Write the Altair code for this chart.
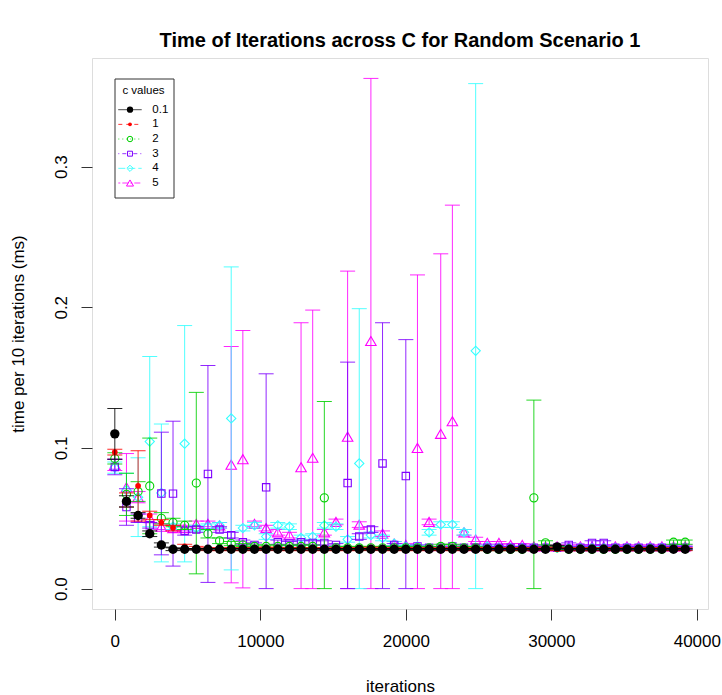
import altair as alt
import pandas as pd

# ---------------- data ----------------
c_values = ["0.1", "1", "2", "3", "4", "5"]
iterations = [i * 800 for i in range(50)]

mean_01 = [0.110, 0.062, 0.052, 0.039, 0.031, 0.028, 0.028, 0.028, 0.028, 0.028,
           0.028, 0.028, 0.028, 0.028, 0.028, 0.028, 0.028, 0.028, 0.028, 0.028,
           0.028, 0.028, 0.028, 0.028, 0.028, 0.028, 0.028, 0.028, 0.028, 0.028,
           0.028, 0.028, 0.028, 0.028, 0.028, 0.028, 0.028, 0.028, 0.0297, 0.028,
           0.028, 0.028, 0.028, 0.028, 0.028, 0.028, 0.028, 0.028, 0.028, 0.028]
sd_01 = [0.018, 0.004, 0.002, 0.002, 0.0015, 0.001, 0.0005, 0.0005, 0.0005, 0.0005,
         0.0005, 0.0005, 0.0005, 0.0005, 0.0005, 0.0005, 0.0005, 0.0005, 0.0005, 0.0005,
         0.0005, 0.0005, 0.0005, 0.0005, 0.0005, 0.0005, 0.0005, 0.0005, 0.0005, 0.0005,
         0.0005, 0.0005, 0.0005, 0.0005, 0.0005, 0.0005, 0.0005, 0.0005, 0.001, 0.0005,
         0.0005, 0.0005, 0.0005, 0.0005, 0.0005, 0.0005, 0.0005, 0.0005, 0.0005, 0.0005]

mean_1 = [0.097, 0.063, 0.073, 0.052, 0.047, 0.043, 0.030, 0.029, 0.028, 0.028,
          0.028, 0.028, 0.028, 0.0285, 0.028, 0.028, 0.028, 0.028, 0.028, 0.028,
          0.028, 0.028, 0.0285, 0.028, 0.028, 0.028, 0.028, 0.028, 0.028, 0.028,
          0.028, 0.028, 0.028, 0.028, 0.028, 0.028, 0.028, 0.0285, 0.028, 0.028,
          0.028, 0.028, 0.028, 0.028, 0.028, 0.028, 0.028, 0.028, 0.028, 0.028]
sd_1 = [0.002, 0.005, 0.025, 0.003, 0.002, 0.002, 0.0015, 0.001, 0.001, 0.001,
        0.001, 0.001, 0.001, 0.001, 0.001, 0.001, 0.001, 0.001, 0.001, 0.001,
        0.001, 0.001, 0.001, 0.001, 0.001, 0.001, 0.001, 0.001, 0.001, 0.001,
        0.001, 0.001, 0.001, 0.001, 0.001, 0.001, 0.001, 0.001, 0.001, 0.001,
        0.001, 0.001, 0.001, 0.001, 0.001, 0.001, 0.001, 0.001, 0.001, 0.001]

mean_2 = [0.0925, 0.067, 0.069, 0.073, 0.050, 0.047, 0.045, 0.075, 0.039, 0.034,
          0.032, 0.031, 0.030, 0.030, 0.030, 0.030, 0.030, 0.030, 0.0645, 0.029,
          0.029, 0.029, 0.029, 0.029, 0.029, 0.029, 0.029, 0.029, 0.030, 0.030,
          0.029, 0.029, 0.028, 0.028, 0.028, 0.028, 0.0645, 0.0325, 0.029, 0.028,
          0.028, 0.028, 0.028, 0.028, 0.028, 0.028, 0.028, 0.028, 0.033, 0.033]
sd_2 = [0.004, 0.015, 0.007, 0.034, 0.004, 0.003, 0.003, 0.0645, 0.003, 0.002,
        0.0015, 0.001, 0.001, 0.001, 0.001, 0.001, 0.001, 0.001, 0.0685, 0.001,
        0.001, 0.001, 0.001, 0.001, 0.001, 0.001, 0.001, 0.001, 0.0015, 0.0015,
        0.001, 0.001, 0.001, 0.001, 0.001, 0.001, 0.0695, 0.0015, 0.001, 0.001,
        0.001, 0.001, 0.001, 0.001, 0.001, 0.001, 0.001, 0.001, 0.0015, 0.0015]

mean_3 = [0.0865, 0.058, 0.050, 0.045, 0.0676, 0.0675, 0.041, 0.042, 0.0815, 0.042,
          0.038, 0.033, 0.031, 0.072, 0.033, 0.032, 0.033, 0.0325, 0.0325, 0.031,
          0.075, 0.037, 0.042, 0.089, 0.031, 0.080, 0.030, 0.029, 0.029, 0.030,
          0.029, 0.029, 0.029, 0.029, 0.029, 0.029, 0.029, 0.029, 0.029, 0.031,
          0.029, 0.0325, 0.0325, 0.029, 0.029, 0.029, 0.029, 0.029, 0.029, 0.029]
sd_3 = [0.0055, 0.013, 0.003, 0.002, 0.0436, 0.0515, 0.003, 0.002, 0.0771, 0.002,
        0.002, 0.0015, 0.0015, 0.0807, 0.0015, 0.0015, 0.0015, 0.0015, 0.0015, 0.001,
        0.086, 0.002, 0.002, 0.100, 0.001, 0.097, 0.001, 0.001, 0.001, 0.001,
        0.001, 0.001, 0.001, 0.001, 0.001, 0.001, 0.001, 0.001, 0.001, 0.0015,
        0.001, 0.0015, 0.0015, 0.001, 0.001, 0.001, 0.001, 0.001, 0.001, 0.001]

mean_4 = [0.086, 0.070, 0.065, 0.1045, 0.068, 0.044, 0.103, 0.043, 0.044, 0.045,
          0.121, 0.043, 0.045, 0.037, 0.045, 0.044, 0.036, 0.037, 0.045, 0.044,
          0.035, 0.089, 0.038, 0.036, 0.032, 0.030, 0.030, 0.040, 0.0455, 0.0455,
          0.040, 0.169, 0.030, 0.029, 0.029, 0.029, 0.029, 0.029, 0.029, 0.029,
          0.029, 0.029, 0.029, 0.029, 0.029, 0.029, 0.029, 0.029, 0.029, 0.029]
sd_4 = [0.004, 0.012, 0.028, 0.0605, 0.049, 0.002, 0.084, 0.002, 0.002, 0.002,
        0.1077, 0.002, 0.002, 0.002, 0.002, 0.002, 0.002, 0.002, 0.002, 0.002,
        0.002, 0.110, 0.002, 0.002, 0.0015, 0.001, 0.001, 0.002, 0.002, 0.002,
        0.002, 0.190, 0.001, 0.001, 0.001, 0.001, 0.001, 0.001, 0.001, 0.001,
        0.001, 0.001, 0.001, 0.001, 0.001, 0.001, 0.001, 0.001, 0.001, 0.001]

mean_5 = [0.088, 0.072, 0.065, 0.050, 0.044, 0.043, 0.043, 0.046, 0.046, 0.045,
          0.0881, 0.092, 0.046, 0.043, 0.040, 0.038, 0.0863, 0.093, 0.040, 0.0474,
          0.108, 0.0455, 0.176, 0.039, 0.032, 0.031, 0.100, 0.0474, 0.110, 0.119,
          0.040, 0.035, 0.0325, 0.0325, 0.031, 0.031, 0.030, 0.030, 0.030, 0.030,
          0.030, 0.030, 0.030, 0.030, 0.030, 0.030, 0.030, 0.030, 0.030, 0.030]
sd_5 = [0.004, 0.024, 0.004, 0.003, 0.002, 0.002, 0.002, 0.002, 0.002, 0.002,
        0.084, 0.0915, 0.002, 0.002, 0.002, 0.002, 0.1027, 0.105, 0.002, 0.002,
        0.1177, 0.002, 0.1867, 0.002, 0.0015, 0.001, 0.123, 0.002, 0.128, 0.1536,
        0.002, 0.0015, 0.001, 0.001, 0.001, 0.001, 0.001, 0.001, 0.001, 0.001,
        0.001, 0.001, 0.001, 0.001, 0.001, 0.001, 0.001, 0.001, 0.001, 0.001]

means = [mean_01, mean_1, mean_2, mean_3, mean_4, mean_5]
sds = [sd_01, sd_1, sd_2, sd_3, sd_4, sd_5]

# ---------------- styles ----------------
colors = ["#000000", "#FF0000", "#00D000", "#7F00FF", "#33FFFF", "#FF00FF"]
shapes = ["circle", "circle", "circle", "square", "diamond", "triangle-up"]
filled = [True, True, False, False, False, False]
sizes = [88, 32, 66, 54, 86, 110]
dashes = [[1, 0], [4, 4], [1, 3], [1, 3, 4, 3], [7, 3], [2, 2, 6, 2]]

rows = []
for s, m, sd in zip(c_values, means, sds):
    for it, mv, sv in zip(iterations, m, sd):
        rows.append({"series": s, "iter": it, "mean": mv,
                     "lo": max(0.0, mv - sv), "hi": mv + sv})
df = pd.DataFrame(rows)

# R-style 4% axis extension
xmin, xmax = df["iter"].min(), df["iter"].max()
ymin, ymax = df["lo"].min(), df["hi"].max()
xr, yr = xmax - xmin, ymax - ymin
xdom = [xmin - 0.04 * xr, xmax + 0.04 * xr]
ydom = [ymin - 0.04 * yr, ymax + 0.04 * yr]

FONT = "Liberation Sans"
W, H = 616, 551

xscale = alt.Scale(domain=xdom, nice=False, zero=False)
yscale = alt.Scale(domain=ydom, nice=False, zero=False)
xaxis = alt.Axis(values=[0, 10000, 20000, 30000, 40000], format="d", domain=False,
                 grid=False, tickSize=11, tickColor="#333333", tickWidth=1,
                 labelFont=FONT, labelFontSize=17, labelColor="black",
                 labelBaseline="middle", labelPadding=21, labelFlush=False,
                 labelOverlap=False, title="iterations", titleFont=FONT,
                 titleFontSize=17, titleFontWeight="normal", titleColor="black",
                 titleX=W / 2, titleY=77, titleBaseline="middle", titleAlign="center")
yaxis = alt.Axis(values=[0, 0.1, 0.2, 0.3], format=".1f", domain=False, grid=False,
                 tickSize=11, tickColor="#333333", tickWidth=1,
                 labelFont=FONT, labelFontSize=17, labelColor="black",
                 labelAngle=270, labelAlign="center", labelBaseline="middle",
                 labelPadding=20, labelFlush=False, labelOverlap=False,
                 title="time per 10 iterations (ms)", titleFont=FONT, titleFontSize=17,
                 titleFontWeight="normal", titleColor="black", titleAngle=270,
                 titleX=-74, titleY=H / 2, titleBaseline="middle", titleAlign="center")


def X():
    return alt.X("iter:Q", scale=xscale, axis=xaxis)


def Y(field):
    return alt.Y(field, type="quantitative", scale=yscale, axis=yaxis)


layers = []
for i in reversed(range(len(c_values))):
    s = c_values[i]
    col = colors[i]
    base = alt.Chart(df[df["series"] == s])
    layers.append(base.mark_rule(color=col, strokeWidth=1, opacity=0.85)
                  .encode(x=X(), y=Y("lo"), y2="hi:Q"))
    layers.append(base.mark_tick(orient="horizontal", size=15, thickness=1,
                                 color=col, opacity=0.85)
                  .encode(x=X(), y=Y("lo")))
    layers.append(base.mark_tick(orient="horizontal", size=15, thickness=1,
                                 color=col, opacity=0.85)
                  .encode(x=X(), y=Y("hi")))
    if filled[i]:
        pt = base.mark_point(shape=shapes[i], size=sizes[i], filled=True,
                             color=col, opacity=1, strokeWidth=0)
    else:
        pt = base.mark_point(shape=shapes[i], size=sizes[i], filled=False,
                             color=col, opacity=1, strokeWidth=1.1)
    layers.append(pt.encode(x=X(), y=Y("mean")))

# ---------------- legend (drawn in plot-pixel coordinates) ----------------
one = pd.DataFrame({"a": [0]})
layers.append(alt.Chart(one).mark_rect(fill="white", stroke="#333333", strokeWidth=1)
              .encode(x=alt.value(23), x2=alt.value(82), y=alt.value(21), y2=alt.value(140)))
layers.append(alt.Chart(one).mark_text(font=FONT, fontSize=11.5, align="center",
                                       baseline="middle", color="black")
              .encode(x=alt.value(51.5), y=alt.value(32.5), text=alt.value("c values")))
for i, s in enumerate(c_values):
    yy = 51.7 + 14.66 * i
    layers.append(alt.Chart(one).mark_rule(color=colors[i], strokeWidth=1,
                                           strokeDash=dashes[i], opacity=0.8)
                  .encode(x=alt.value(26.3), x2=alt.value(49.7), y=alt.value(yy)))
    if filled[i]:
        lp = alt.Chart(one).mark_point(shape=shapes[i], size=sizes[i] * 0.45, filled=True,
                                       color=colors[i], opacity=1, strokeWidth=0)
    else:
        lp = alt.Chart(one).mark_point(shape=shapes[i], size=sizes[i] * 0.45, filled=False,
                                       color=colors[i], opacity=1, strokeWidth=1)
    layers.append(lp.encode(x=alt.value(38), y=alt.value(yy)))
    layers.append(alt.Chart(one).mark_text(font=FONT, fontSize=11.5, align="left",
                                           baseline="middle", color="black")
                  .encode(x=alt.value(60.3), y=alt.value(yy), text=alt.value(s)))

chart = alt.layer(*layers).properties(
    width=W, height=H,
    title=alt.TitleParams("Time of Iterations across C for Random Scenario 1",
                          font=FONT, fontSize=20, fontWeight="bold", color="black",
                          anchor="middle", baseline="alphabetic", offset=-9),
    autosize=alt.AutoSizeParams(type="none"),
    padding={"left": 92, "top": 58, "right": 14, "bottom": 86},
).configure_view(stroke="#222222", strokeWidth=1).configure(background="white")

chart.save("out.html", embed_options={"renderer": "svg", "actions": False})
